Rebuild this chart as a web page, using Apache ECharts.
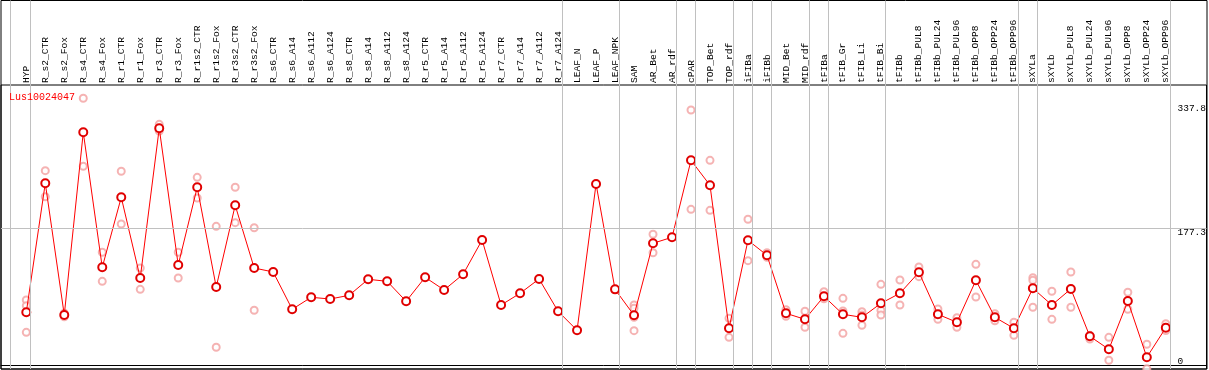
<!DOCTYPE html>
<html>
<head>
<meta charset="utf-8">
<script src="https://cdn.jsdelivr.net/npm/echarts@6/dist/echarts.min.js"></script>
<style>
html,body{margin:0;padding:0;background:#fff;}
#chart{width:1209px;height:370px;}
</style>
</head>
<body>
<div id="chart"></div>
<script>
const geneName = 'Lus10024047';
const categories = ['HYP','R_s2_CTR','R_s2_Fox','R_s4_CTR','R_s4_Fox','R_r1_CTR','R_r1_Fox','R_r3_CTR','R_r3_Fox','R_r1s2_CTR','R_r1s2_Fox','R_r3s2_CTR','R_r3s2_Fox','R_s6_CTR','R_s6_A14','R_s6_A112','R_s6_A124','R_s8_CTR','R_s8_A14','R_s8_A112','R_s8_A124','R_r5_CTR','R_r5_A14','R_r5_A112','R_r5_A124','R_r7_CTR','R_r7_A14','R_r7_A112','R_r7_A124','LEAF_N','LEAF_P','LEAF_NPK','SAM','AR_Bet','AR_rdf','cPAR','TOP_Bet','TOP_rdf','iFIBa','iFIBb','MID_Bet','MID_rdf','tFIBa','tFIB_Gr','tFIB_Li','tFIB_Bi','tFIBb','tFIBb_PUL8','tFIBb_PUL24','tFIBb_PUL96','tFIBb_OPP8','tFIBb_OPP24','tFIBb_OPP96','sXYLa','sXYLb','sXYLb_PUL8','sXYLb_PUL24','sXYLb_PUL96','sXYLb_OPP8','sXYLb_OPP24','sXYLb_OPP96'];
const means = [68.6,235.6,65.1,301.6,126.8,217.4,113.0,306.8,129.8,230.4,101.3,207.1,125.9,120.8,72.5,88.0,85.8,90.6,111.3,108.7,82.8,113.9,97.5,117.8,162.2,78.0,93.2,111.7,69.9,45.3,234.7,98.3,64.7,157.9,165.7,265.3,233.0,47.9,161.8,142.4,67.3,59.5,89.3,66.0,62.1,80.2,93.2,120.4,66.0,55.7,110.0,62.1,47.9,99.7,78.0,98.8,37.5,20.7,83.2,10.4,48.7];
const replicates = [
  [84.5,77.2,42.7],[251.9,218.2],[67.5,62.7],[345.6,257.6],[146.3,108.7],[251.1,182.9],[125.9,98.3],[311.9,303.3],[146.3,113.0],[243.3,216.5],[179.9,23.3],[230.4,184.6],[178.1,71.2],
  [],[],[],[],[],[],[],[],[],[],[],[],[],[],[],[],
  [],[],[],
  [78.0,73.8,62.1,44.8],[169.6,145.7],[],[330.4,201.9],[265.3,200.6],[60.8,36.2],[189.0,135.4],[145.7,139.8],[72.0,63.4],[69.9,49.2],
  [95.3,86.2],[86.7,70.3,41.4],[69.4,65.0,51.8],[104.8,71.2,65.1],[110.4,78.0],[127.2,114.7],[72.9,59.5],[61.6,49.2],[130.7,88.4],[66.8,57.7],[55.7,38.8],
  [113.4,110.0,75.1],[95.8,59.5],[120.8,75.1],[38.8,34.0],[36.2,6.5],[94.5,72.5],[27.2,-4.5],[53.8,45.0]
];
const groupEnds = [-1,0,28,31,34,35,37,38,39,41,42,45,52,53,60];
const yTickValues = [0,177.3,337.8];
const refLineValue = 177.3;

const X_MIN = -1.3316, X_MAX = 62.142;
const Y_MIN = -4.79, Y_MAX = 362.8;
const mono = '"Liberation Mono", "DejaVu Sans Mono", monospace';

const meanData = means.map((v, i) => [i, v]);
const repData = [];
replicates.forEach((arr, i) => arr.forEach(v => repData.push([i, v])));

const chart = echarts.init(document.getElementById('chart'), null, {renderer: 'canvas'});
chart.setOption({
  animation: false,
  backgroundColor: '#ffffff',
  title: {
    text: geneName, left: 9, top: 92, padding: 0,
    textStyle: {color: '#ff0000', fontSize: 10, fontWeight: 'normal', fontFamily: mono}
  },
  grid: [
    {left: 1, right: 2, top: 0.5, bottom: 1, show: true, borderColor: '#000', borderWidth: 1, backgroundColor: 'transparent'},
    {left: 1, right: 2, top: 85, bottom: 1, show: true, borderColor: '#000', borderWidth: 1, backgroundColor: 'transparent'}
  ],
  xAxis: [
    {gridIndex: 0, type: 'value', min: X_MIN, max: X_MAX, show: false},
    {gridIndex: 1, type: 'value', min: X_MIN, max: X_MAX, position: 'top',
     axisLine: {show: true, lineStyle: {color: '#000', width: 1}},
     axisTick: {show: false}, splitLine: {show: false},
     axisLabel: {
       customValues: categories.map((c, i) => i),
       formatter: v => categories[Math.round(v)] || '',
       rotate: 90, margin: 2, color: '#000', fontSize: 9.6, fontFamily: mono
     }}
  ],
  yAxis: [
    {gridIndex: 0, type: 'value', min: 0, max: 1, show: false},
    {gridIndex: 1, type: 'value', min: Y_MIN, max: Y_MAX, position: 'right',
     axisLine: {show: false}, axisTick: {show: false}, splitLine: {show: false},
     axisLabel: {
       customValues: yTickValues,
       inside: true, margin: 29, align: 'left', verticalAlign: 'middle',
       color: '#000', fontSize: 9.5, fontFamily: mono,
       formatter: v => (v === 0 ? '{b|0}' : '{a|' + v + '}'),
       rich: {
         a: {padding: [9, 0, 0, 0], fontSize: 9.5, fontFamily: mono, color: '#000'},
         b: {padding: [0, 0, 7, 0], fontSize: 9.5, fontFamily: mono, color: '#000'}
       }
     }}
  ],
  series: [
    {
      type: 'line', xAxisIndex: 0, yAxisIndex: 0, data: [], silent: true,
      markLine: {
        silent: true, symbol: ['none', 'none'], label: {show: false},
        lineStyle: {color: '#c0c0c0', type: 'solid', width: 1},
        data: groupEnds.map(g => ({xAxis: g + (g < 0 ? 0.18 : 0.23)}))
      }
    },
    {
      type: 'scatter', xAxisIndex: 1, yAxisIndex: 1, data: repData,
      symbol: 'emptyCircle', symbolSize: 7, z: 3,
      itemStyle: {color: '#f2a0a0', borderColor: '#f2a0a0', borderWidth: 1.2},
      markLine: {
        silent: true, symbol: ['none', 'none'], label: {show: false},
        lineStyle: {color: '#c0c0c0', type: 'solid', width: 1},
        data: [{yAxis: refLineValue}]
      }
    },
    {
      type: 'line', xAxisIndex: 1, yAxisIndex: 1, data: meanData,
      symbol: 'emptyCircle', symbolSize: 8, z: 4,
      lineStyle: {color: '#ff0000', width: 1},
      itemStyle: {color: '#e00000', borderColor: '#e00000', borderWidth: 1.6}
    }
  ]
});
</script>
</body>
</html>
